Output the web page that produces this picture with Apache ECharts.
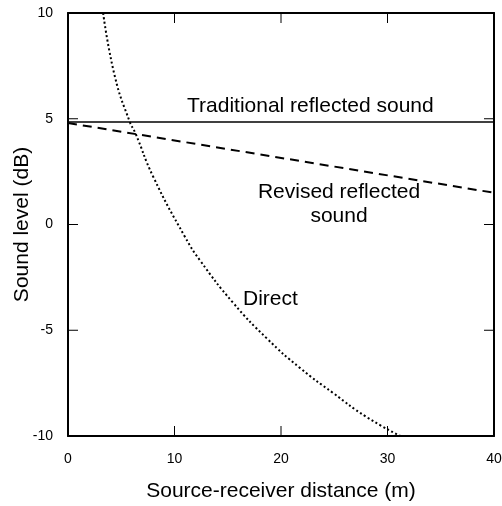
<!DOCTYPE html>
<html>
<head>
<meta charset="utf-8">
<script src="https://cdn.jsdelivr.net/npm/echarts@6/dist/echarts.min.js"></script>
<style>
  html, body { margin: 0; padding: 0; background: #fff; }
  #chart { width: 502px; height: 506px; }
</style>
</head>
<body>
<div id="chart"></div>
<script>
var xTicks = [0, 10, 20, 30, 40];
var yTicks = [-10, -5, 0, 5, 10];

// direct sound
var directX = [3.3, 4.4, 5.8, 6.3, 8.0, 11.0, 12.4, 15.5, 18.7, 21.8, 24.9, 28.0, 31.2];
var directY = [10, 7.0, 4.85, 4.35, 2.26, -0.6, -1.7, -3.7, -5.4, -6.79, -7.97, -9.09, -10];

// traditional reflected (flat) and revised reflected (sloping)
var tradX = [0, 40];
var tradY = [4.85, 4.85];
var revX = [0, 40];
var revY = [4.8, 1.5];

function pairs(xs, ys) {
    var out = [];
    for (var i = 0; i < xs.length; i++) {
        out.push([xs[i], ys[i]]);
    }
    return out;
}

var font = '"Liberation Sans", Arial, sans-serif';
var TICK_LEN = 10;
var chart = echarts.init(document.getElementById('chart'));

function frameLine() {
    return { show: true, onZero: false, lineStyle: { color: '#000', width: 2 } };
}

function tickLine(x1, y1, x2, y2) {
    return {
        type: 'line',
        shape: { x1: x1, y1: y1, x2: x2, y2: y2 },
        style: { stroke: '#000', lineWidth: 1 }
    };
}

// inner tick marks on all four sides, placed through the axis scales
function renderXTick(params, api) {
    var v = api.value(0);
    var b = api.coord([v, yTicks[0]]);
    var t = api.coord([v, yTicks[yTicks.length - 1]]);
    return {
        type: 'group',
        children: [
            tickLine(b[0], b[1], b[0], b[1] - TICK_LEN),
            tickLine(t[0], t[1], t[0], t[1] + TICK_LEN)
        ]
    };
}

function renderYTick(params, api) {
    var v = api.value(1);
    var l = api.coord([xTicks[0], v]);
    var r = api.coord([xTicks[xTicks.length - 1], v]);
    return {
        type: 'group',
        children: [
            tickLine(l[0], l[1], l[0] + TICK_LEN, l[1]),
            tickLine(r[0], r[1], r[0] - TICK_LEN, r[1])
        ]
    };
}

var option = {
    animation: false,
    backgroundColor: '#fff',
    grid: { left: 68, right: 8, top: 13, bottom: 70, containLabel: false, outerBoundsMode: 'none' },
    xAxis: [
        {
            type: 'value', position: 'bottom', min: 0, max: 40, interval: 10,
            axisLine: frameLine(), axisTick: { show: false }, splitLine: { show: false },
            axisLabel: { color: '#000', fontSize: 14, fontFamily: font, margin: 16 },
            name: 'Source-receiver distance (m)', nameLocation: 'middle', nameGap: 45,
            nameMoveOverlap: false,
            nameTextStyle: { color: '#000', fontSize: 21, fontFamily: font }
        },
        {
            type: 'value', position: 'top', min: 0, max: 40, interval: 10,
            axisLine: frameLine(), axisTick: { show: false }, splitLine: { show: false },
            axisLabel: { show: false }
        }
    ],
    yAxis: [
        {
            type: 'value', position: 'left', min: -10, max: 10, interval: 5,
            axisLine: frameLine(), axisTick: { show: false }, splitLine: { show: false },
            axisLabel: { color: '#000', fontSize: 14, fontFamily: font, margin: 15 },
            name: 'Sound level (dB)', nameLocation: 'middle', nameGap: 35,
            nameMoveOverlap: false,
            nameTextStyle: { color: '#000', fontSize: 21, fontFamily: font }
        },
        {
            type: 'value', position: 'right', min: -10, max: 10, interval: 5,
            axisLine: frameLine(), axisTick: { show: false }, splitLine: { show: false },
            axisLabel: { show: false }
        }
    ],
    series: [
        {
            name: 'Traditional reflected sound', type: 'line',
            data: pairs(tradX, tradY), showSymbol: false,
            lineStyle: { color: '#000', width: 1.5 }
        },
        {
            name: 'Revised reflected sound', type: 'line',
            data: pairs(revX, revY), showSymbol: false,
            lineStyle: { color: '#000', width: 2, type: [9, 6] }
        },
        {
            name: 'Direct', type: 'line', smooth: true,
            data: pairs(directX, directY), showSymbol: false,
            lineStyle: { color: '#000', width: 2, type: [2, 2.5] }
        },
        {
            type: 'custom', silent: true, clip: false,
            data: xTicks.slice(1, -1).map(function (v) { return [v, 0]; }),
            renderItem: renderXTick
        },
        {
            type: 'custom', silent: true, clip: false,
            data: yTicks.slice(1, -1).map(function (v) { return [0, v]; }),
            renderItem: renderYTick
        }
    ],
    graphic: [
        {
            type: 'text', left: 187, top: 96,
            style: { text: 'Traditional reflected sound', fill: '#000', font: '21px ' + font }
        },
        {
            type: 'text', x: 339, y: 180,
            style: { text: 'Revised reflected\nsound', fill: '#000', font: '21px ' + font, align: 'center', verticalAlign: 'top', lineHeight: 24 }
        },
        {
            type: 'text', left: 243, top: 289,
            style: { text: 'Direct', fill: '#000', font: '21px ' + font }
        }
    ]
};

chart.setOption(option);
</script>
</body>
</html>
